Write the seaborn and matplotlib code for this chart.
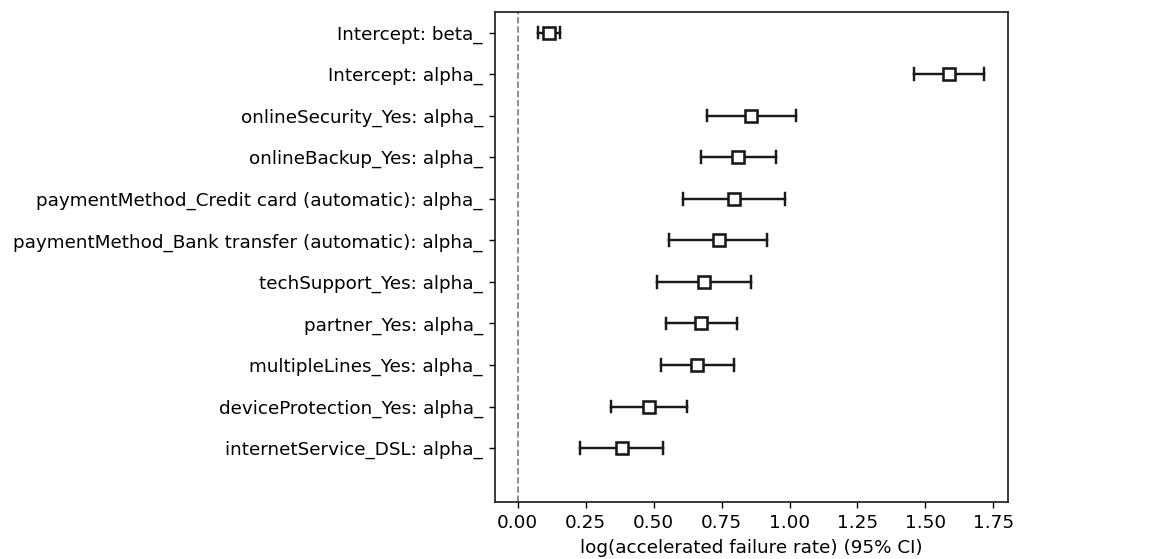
import matplotlib
matplotlib.use("Agg")
import matplotlib.pyplot as plt
import seaborn as sns
import pandas as pd

labels = [
    "Intercept: beta_",
    "Intercept: alpha_",
    "onlineSecurity_Yes: alpha_",
    "onlineBackup_Yes: alpha_",
    "paymentMethod_Credit card (automatic): alpha_",
    "paymentMethod_Bank transfer (automatic): alpha_",
    "techSupport_Yes: alpha_",
    "partner_Yes: alpha_",
    "multipleLines_Yes: alpha_",
    "deviceProtection_Yes: alpha_",
    "internetService_DSL: alpha_",
]
coef = [0.116, 1.588, 0.859, 0.812, 0.796, 0.739, 0.686, 0.675, 0.661, 0.482, 0.383]
lower = [0.076, 1.459, 0.695, 0.674, 0.609, 0.558, 0.514, 0.545, 0.527, 0.342, 0.229]
upper = [0.157, 1.716, 1.025, 0.949, 0.983, 0.918, 0.858, 0.806, 0.797, 0.623, 0.535]

rows = []
for lab, c, lo, hi in zip(labels, coef, lower, upper):
    for v in (lo, c, hi):
        rows.append({"covariate": lab, "value": v})
df = pd.DataFrame(rows)

plt.rcParams["font.size"] = 10.6
plt.rcParams["axes.linewidth"] = 1.0
plt.rcParams["axes.edgecolor"] = "#222222"

fig = plt.figure(figsize=(1158 / 125, 559 / 125), dpi=125)
ax = fig.add_axes([0.4275, 0.1025, 0.8705 - 0.4275, 0.979 - 0.1025])

ax.axvline(0, linestyle="--", linewidth=1, color="k", alpha=0.5, zorder=0)

sns.pointplot(
    data=df, x="value", y="covariate", order=labels,
    estimator="median", errorbar=("pi", 100),
    orient="h", linestyle="none", marker="s", color="#1a1a1a",
    markerfacecolor="white", markeredgewidth=1.5, markersize=6.5,
    capsize=0.28, err_kws={"linewidth": 1.4, "zorder": 2},
    zorder=3, ax=ax,
)

ax.set_xlim(-0.0835, 1.804)
ax.set_ylim(len(labels) - 1 + 1.29, -0.5)
ax.set_xticks([0.0, 0.25, 0.5, 0.75, 1.0, 1.25, 1.5, 1.75])
ax.set_xticklabels(["0.00", "0.25", "0.50", "0.75", "1.00", "1.25", "1.50", "1.75"])
ax.set_xlabel("log(accelerated failure rate) (95% CI)")
ax.set_ylabel("")
ax.grid(False)

fig.savefig("out.png", dpi=125)
